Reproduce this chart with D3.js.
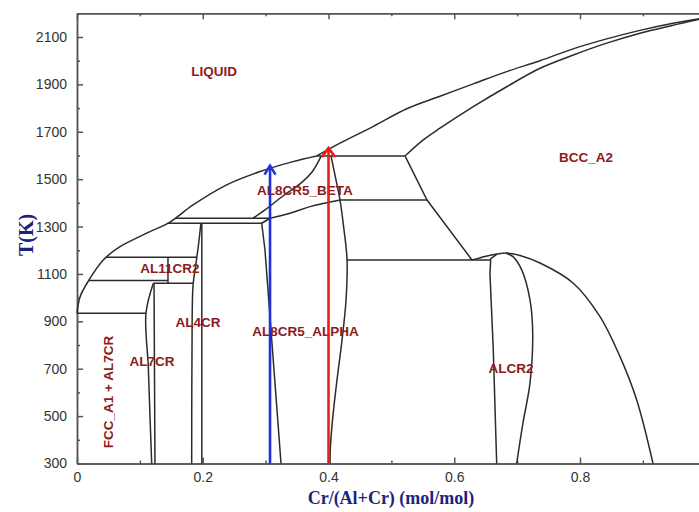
<!DOCTYPE html>
<html>
<head>
<meta charset="utf-8">
<script src="https://cdn.jsdelivr.net/npm/d3@7"></script>
<style>
body { margin:0; background:#fff; }
svg { display:block; }
.axis path, .axis line { stroke:#555; stroke-width:1.5px; }
.axis text { font-family:"Liberation Sans", Arial, sans-serif; font-size:14px; fill:#333; }
.phase { fill:none; stroke:#2b2b2b; stroke-width:1.5px; }
.lbl { font-family:"Liberation Sans", Arial, sans-serif; font-size:13.5px; font-weight:bold; fill:#8e1a1a; }
.title { font-family:"Liberation Serif", "Times New Roman", serif; font-weight:bold; fill:#1c237e; }
</style>
</head>
<body>
<svg width="699" height="512"></svg>
<script>
// tick values
var xTicks = [0, 0.2, 0.4, 0.6, 0.8];
var xMinor = [0.1, 0.3, 0.5, 0.7, 0.9];
var yTicks = [300, 500, 700, 900, 1100, 1300, 1500, 1700, 1900, 2100];
var yMinor = [400, 600, 800, 1000, 1200, 1400, 1600, 1800, 2000, 2200];

// phase boundaries, [x Cr, T K]
var liquidusAl = [[0,934],[0.0048,1003],[0.018,1070],[0.0418,1159],[0.0684,1215],[0.1109,1272],[0.1479,1319],[0.1845,1391],[0.2381,1476],[0.2911,1532],[0.3435,1574],[0.3812,1598]];
var liquidusCr = [[0.3812,1598],[0.4183,1652],[0.4708,1722],[0.5244,1797],[0.5773,1850],[0.6303,1902],[0.6834,1954],[0.7364,2000],[0.7889,2050],[0.8425,2092],[0.8954,2128],[0.9479,2158],[0.9877,2176],[1,2180]];
var solidusBcc = [[0.5217,1598],[0.5503,1665],[0.5773,1715],[0.6303,1806],[0.6834,1890],[0.7364,1968],[0.7894,2024],[0.8425,2074],[0.8954,2116],[0.9484,2150],[0.9877,2174],[1,2180]];
var betaSolidus = [[0.2799,1335],[0.299,1370],[0.3276,1429],[0.3547,1480],[0.3738,1530],[0.3885,1598]];
var betaLower = [[0.307,1335],[0.3388,1356],[0.3706,1384],[0.4183,1412]];
var alphaRight = [[0.404,1598],[0.4119,1497],[0.4183,1412],[0.4247,1285],[0.4295,1159],[0.4279,990],[0.4215,821],[0.4135,652],[0.4072,505],[0.4032,378],[0.4024,300]];
var bccDome = [[0.6282,1159],[0.6489,1174],[0.668,1184],[0.6839,1188],[0.7046,1178],[0.7364,1146],[0.7889,1062],[0.8318,920],[0.8636,751],[0.8902,568],[0.9161,300]];
var alcr2Right = [[0.6823,1187],[0.6934,1173],[0.7073,1117],[0.7205,990],[0.7248,851],[0.7205,640],[0.7093,471],[0.6993,300]];
var al7crLeft = [[0.1214,1061],[0.1097,934],[0.1134,709],[0.1161,498],[0.1188,300]];
var al4crLeft = [[0.197,1314],[0.1932,1222],[0.1885,1131],[0.1845,1049],[0.1829,779],[0.1824,300]];

var iso1598 = [[0.3812,1598],[0.5217,1598]];
var iso1412 = [[0.4183,1412],[0.5567,1412]];
var iso1335 = [[0.156,1335],[0.307,1335]];
var iso1314 = [[0.144,1314],[0.2938,1314]];
var iso1170 = [[0.047,1170],[0.1905,1170]];
var iso1159 = [[0.4295,1159],[0.6568,1159]];
var iso1072 = [[0.018,1072],[0.1447,1072]];
var iso1061 = [[0.1214,1061],[0.185,1061]];
var iso934 = [[0,934],[0.1097,934]];
var bccEdge = [[0.5217,1598],[0.5567,1412],[0.6282,1159]];
var alphaLeft = [[0.307,1335],[0.2938,1314],[0.299,1200],[0.3245,300]];
var alcr2Left = [[0.668,1184],[0.658,1165],[0.6568,1100],[0.6621,779],[0.6675,300]];
var al11cr2Right = [[0.1447,1170],[0.1447,1061]];
var al7crRight = [[0.1225,1061],[0.124,300]];
var al4crRight = [[0.1985,1314],[0.1985,300]];

// heating paths
var arrowX = [0.307, 0.40];
var arrowTop = [1557, 1632];

// phase labels
var labels = [
  ["LIQUID", 0.218, 1957],
  ["AL8CR5_BETA", 0.3626, 1454],
  ["AL11CR2", 0.1479, 1125],
  ["AL4CR", 0.1924, 898],
  ["AL7CR", 0.1193, 730],
  ["AL8CR5_ALPHA", 0.3634, 859],
  ["ALCR2", 0.6903, 702],
  ["BCC_A2", 0.8095, 1594]
];
var fccLabel = ["FCC_A1 + AL7CR", 0.0498, 602];

var svg = d3.select("svg");

var x = d3.scaleLinear().domain([0, 1]).range([77, 705.75]);
var y = d3.scaleLinear().domain([300, 2200]).range([463.5, 13.3]);

// frame + ticks (inward)
svg.append("g").attr("class","axis")
  .attr("transform","translate(0," + y(300) + ")")
  .call(d3.axisBottom(x).tickValues(xTicks).tickSize(-6).tickSizeOuter(0).tickPadding(9)
    .tickFormat(function(d) { return d === 0 ? "0" : d3.format(".1f")(d); }));
svg.append("g").attr("class","axis")
  .attr("transform","translate(0," + y(300) + ")")
  .call(d3.axisBottom(x).tickValues(xMinor).tickSize(-3).tickSizeOuter(0).tickFormat(""));
svg.append("g").attr("class","axis")
  .attr("transform","translate(0," + y(2200) + ")")
  .call(d3.axisTop(x).tickValues(xTicks).tickSize(-6).tickSizeOuter(0).tickFormat(""));
svg.append("g").attr("class","axis")
  .attr("transform","translate(0," + y(2200) + ")")
  .call(d3.axisTop(x).tickValues(xMinor).tickSize(-3).tickSizeOuter(0).tickFormat(""));

svg.append("g").attr("class","axis")
  .attr("transform","translate(" + x(0) + ",0)")
  .call(d3.axisLeft(y).tickValues(yTicks).tickSize(-6).tickSizeOuter(0).tickPadding(10)
    .tickFormat(d3.format("d")));
svg.append("g").attr("class","axis")
  .attr("transform","translate(" + x(0) + ",0)")
  .call(d3.axisLeft(y).tickValues(yMinor).tickSize(-3).tickSizeOuter(0).tickFormat(""));
svg.append("g").attr("class","axis")
  .attr("transform","translate(" + x(1) + ",0)")
  .call(d3.axisRight(y).tickValues(yTicks).tickSize(-6).tickSizeOuter(0).tickFormat(""));

// phase boundaries
var curved = [liquidusAl, liquidusCr, solidusBcc, betaSolidus, betaLower, alphaRight, bccDome, alcr2Right, al7crLeft, al4crLeft];
var straight = [iso1598, iso1412, iso1335, iso1314, iso1170, iso1159, iso1072, iso1061, iso934,
  bccEdge, alphaLeft, alcr2Left, al11cr2Right, al7crRight, al4crRight];

var smooth = d3.line()
  .curve(d3.curveCatmullRom)
  .x(function(d) { return x(d[0]); })
  .y(function(d) { return y(d[1]); });
var lin = d3.line()
  .x(function(d) { return x(d[0]); })
  .y(function(d) { return y(d[1]); });

svg.append("g").selectAll("path.c").data(curved).enter()
  .append("path").attr("class","phase").attr("d", smooth);
svg.append("g").selectAll("path.s").data(straight).enter()
  .append("path").attr("class","phase").attr("d", lin);

// labels
svg.append("g").selectAll("text").data(labels).enter()
  .append("text").attr("class","lbl")
  .attr("x", function(d) { return x(d[1]); })
  .attr("y", function(d) { return y(d[2]); })
  .attr("dy","0.36em")
  .attr("text-anchor","middle")
  .text(function(d) { return d[0]; });
svg.append("text").attr("class","lbl")
  .attr("transform","translate(" + x(fccLabel[1]) + "," + y(fccLabel[2]) + ") rotate(-90)")
  .attr("dy","0.36em")
  .attr("text-anchor","middle")
  .text(fccLabel[0]);

// arrows
var arrowColor = ["#2230d8", "#ee1c1c"];
var arrowWing = [5.5, 6.5];
arrowX.forEach(function(ax, i) {
  var g = svg.append("g")
    .attr("stroke", arrowColor[i])
    .attr("stroke-width", 2.6)
    .attr("fill", "none");
  g.append("line")
    .attr("x1", x(ax)).attr("x2", x(ax))
    .attr("y1", y(300)).attr("y2", y(arrowTop[i]));
  var tx = x(ax), ty = y(arrowTop[i]), w = arrowWing[i];
  g.append("path")
    .attr("d", "M" + (tx - w) + "," + (ty + 9) + "L" + tx + "," + ty + "L" + (tx + w) + "," + (ty + 9));
});

// axis titles
svg.append("text").attr("class","title")
  .attr("font-size", 20)
  .attr("transform","translate(26,235) rotate(-90)")
  .attr("dy","0.35em")
  .attr("text-anchor","middle")
  .text("T(K)");
svg.append("text").attr("class","title")
  .attr("font-size", 18)
  .attr("x", 391).attr("y", 504)
  .attr("text-anchor","middle")
  .text("Cr/(Al+Cr) (mol/mol)");
</script>
</body>
</html>
